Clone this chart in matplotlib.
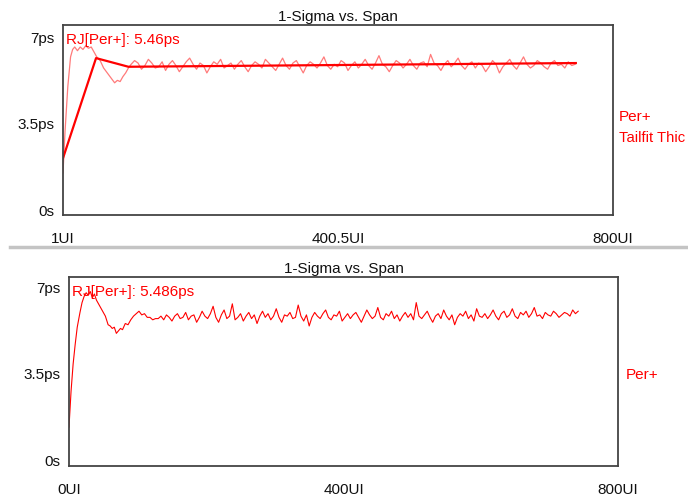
import numpy as np
import matplotlib
matplotlib.use("Agg")
import matplotlib.pyplot as plt
from matplotlib.lines import Line2D

plt.rcParams['font.family'] = ['Liberation Sans', 'DejaVu Sans']

title = "1-Sigma vs. Span"

# ---- Top panel data ----
top_xticks = [1, 400.5, 800]
top_xticklabels = ["1UI", "400.5UI", "800UI"]
yticks = [0, 3.5, 7]
yticklabels = ["0s", "3.5ps", "7ps"]

top_early_x = [1, 4, 8, 12, 15, 18, 22, 26, 30, 34, 38, 42, 46, 50, 55, 60,
               64, 68, 72, 76, 80, 84, 88, 92, 96]
top_early_v = [1.5, 3.2, 5.0, 6.2, 6.5, 6.6, 6.45, 6.6, 6.5, 6.65, 6.55, 6.6,
               6.4, 6.2, 6.05, 5.75, 5.6, 5.45, 5.3, 5.15, 5.25, 5.2, 5.4,
               5.55, 5.75]
top_tail_start = 100
top_tail_step = 5
top_tail_v = [
    5.90, 6.05, 5.95, 5.70, 5.85, 6.10, 5.95, 5.75, 5.80, 6.00,
    5.65, 5.90, 6.05, 5.85, 5.60, 5.80, 6.00, 6.15, 5.90, 5.70,
    5.95, 5.85, 5.55, 5.80, 6.00, 5.90, 6.10, 5.75, 5.85, 5.95,
    5.70, 5.90, 6.05, 5.80, 5.60, 5.85, 6.00, 5.90, 5.75, 6.10,
    5.95, 5.80, 5.65, 5.90, 6.15, 5.85, 5.70, 5.95, 6.05, 5.80,
    5.55, 5.85, 6.00, 5.90, 5.75, 5.95, 6.20, 5.85, 5.70, 5.90,
    5.80, 6.05, 5.95, 5.65, 5.85, 6.00, 5.75, 5.90, 6.10, 5.85,
    5.70, 5.95, 6.25, 5.90, 5.80, 5.60, 5.85, 6.05, 5.95, 5.75,
    5.90, 6.10, 5.85, 5.70, 5.95, 6.00, 5.80, 6.30, 5.95, 5.85,
    5.65, 5.90, 6.05, 5.80, 5.95, 6.15, 5.85, 5.70, 5.90, 6.00,
    5.75, 5.95, 5.85, 5.60, 5.80, 6.05, 5.90, 5.55, 5.80, 5.95,
    6.10, 5.85, 5.70, 5.95, 6.20, 5.90, 5.75, 5.85, 6.05, 5.95,
    5.80, 5.70, 5.95, 6.05, 5.85, 5.90, 5.75, 6.00, 5.85, 5.90,
]
fit_x = [1, 49, 96, 746]
fit_v = [2.1, 6.15, 5.8, 5.95]
top_annot = "RJ[Per+]: 5.46ps"
top_right_labels = ["Per+", "Tailfit Thic"]

# ---- Bottom panel data ----
bot_xticks = [0, 400, 800]
bot_xticklabels = ["0UI", "400UI", "800UI"]
bot_early_x = [0, 3, 6, 9, 12, 16, 19, 22, 25, 28, 31, 34, 37, 40, 43, 46,
               50, 53, 57, 60, 63, 66, 69, 72, 75, 78, 82, 86, 90, 94, 98,
               102, 106, 110, 114, 118, 122, 126]
bot_early_v = [1.34, 2.8, 3.9, 4.7, 5.4, 6.0, 6.4, 6.65, 6.8, 6.7, 6.85, 6.6,
               6.75, 6.5, 6.35, 6.2, 6.0, 5.85, 5.5, 5.45, 5.35, 5.4, 5.15,
               5.25, 5.35, 5.3, 5.55, 5.5, 5.7, 5.85, 5.95, 6.05, 5.9, 5.95,
               5.8, 5.8, 5.7, 5.75]
bot_tail_start = 130
bot_tail_step = 4
bot_tail_v = [
    5.75, 5.85, 5.70, 5.90, 5.80, 5.65, 5.85, 5.95, 5.75, 5.80,
    6.00, 5.70, 5.85, 5.90, 5.60, 5.80, 6.05, 5.85, 5.75, 5.95,
    6.25, 5.80, 5.60, 5.90, 6.10, 5.75, 5.85, 6.35, 5.70, 5.80,
    5.95, 5.65, 5.85, 6.00, 5.75, 5.90, 5.55, 5.85, 6.05, 5.80,
    5.95, 5.70, 5.85, 6.15, 5.80, 5.60, 5.90, 5.85, 6.00, 5.75,
    5.80, 6.30, 5.85, 5.65, 5.90, 5.45, 5.80, 6.00, 5.85, 5.75,
    5.95, 6.10, 5.80, 5.70, 5.90, 5.85, 6.05, 5.65, 5.80, 5.95,
    5.75, 5.90, 6.00, 5.80, 5.60, 5.85, 6.10, 5.90, 5.75, 5.85,
    6.20, 5.80, 5.70, 5.95, 5.85, 6.05, 5.75, 5.90, 5.65, 5.85,
    6.00, 5.80, 5.95, 5.70, 6.40, 5.85, 5.75, 5.90, 6.05, 5.80,
    5.60, 5.85, 5.95, 5.75, 6.10, 5.85, 5.70, 5.90, 5.50, 5.80,
    5.95, 5.85, 6.05, 5.75, 5.90, 5.65, 6.15, 5.85, 5.80, 5.95,
    5.75, 5.90, 6.10, 5.85, 5.70, 5.95, 6.05, 5.80, 5.90, 6.15,
    5.85, 5.75, 6.00, 5.90, 6.05, 5.80, 5.95, 6.20, 5.85, 5.90,
    5.75, 6.00, 5.90, 5.85, 6.05, 5.95, 5.80, 5.90, 6.00, 5.95,
    5.85, 6.10, 5.95, 6.05,
]
bot_annot = "RJ[Per+]: 5.486ps"

W, H = 688, 496
fig = plt.figure(figsize=(W / 100, H / 100), dpi=100)
fig.patch.set_facecolor("white")

RED = "#ff0000"
FS = 11


def style_axes(ax, xlim, ylim, xticks, xlabels):
    ax.set_xlim(*xlim)
    ax.set_ylim(*ylim)
    ax.set_xticks(xticks)
    ax.set_xticklabels(xlabels, fontsize=FS, color="#111111")
    ax.set_yticks(yticks)
    ax.set_yticklabels(yticklabels, fontsize=FS, color="#111111")
    ax.tick_params(axis="x", length=0, pad=12)
    ax.tick_params(axis="y", length=0, pad=6)
    for s in ax.spines.values():
        s.set_color("#444444")
        s.set_linewidth(1.3)
    ax.set_title(title, fontsize=FS, color="#111111", pad=3)


# Top axes
ax1 = fig.add_axes([63 / W, 1 - 215 / H, 550 / W, 190 / H])
top_x = np.array(top_early_x + list(np.arange(len(top_tail_v)) * top_tail_step + top_tail_start))
top_v = np.array(top_early_v + top_tail_v)
ax1.plot(top_x, top_v, color="#ff7a7a", lw=0.9)
ax1.plot(fit_x, fit_v, color=RED, lw=1.6)
style_axes(ax1, (1, 800), (-0.2, 7.49), top_xticks, top_xticklabels)
ax1.text(0.006, 0.96, top_annot, transform=ax1.transAxes, color=RED,
         fontsize=FS, ha="left", va="top")
fig.text(619 / W, 1 - 117 / H, top_right_labels[0], color=RED, fontsize=FS,
         ha="left", va="center")
fig.text(619 / W, 1 - 138 / H, top_right_labels[1], color=RED, fontsize=10.6,
         ha="left", va="center")

# Separator
fig.add_artist(Line2D([10 / W, 1.0], [1 - 247 / H, 1 - 247 / H],
                      transform=fig.transFigure, color="#c4c4c4", lw=2.5))

# Bottom axes
ax2 = fig.add_axes([69 / W, 1 - 466 / H, 549 / W, 189 / H])
bot_x = np.array(bot_early_x + list(np.arange(len(bot_tail_v)) * bot_tail_step + bot_tail_start))
bot_v = np.array(bot_early_v + bot_tail_v)
ax2.plot(bot_x, bot_v, color=RED, lw=0.8)
style_axes(ax2, (0, 800), (-0.24, 7.44), bot_xticks, bot_xticklabels)
ax2.text(0.005, 0.96, bot_annot, transform=ax2.transAxes, color=RED,
         fontsize=FS, ha="left", va="top")
fig.text(626 / W, 1 - 375 / H, "Per+", color=RED, fontsize=FS, ha="left", va="center")

fig.savefig("out.png", dpi=100, facecolor="white")
